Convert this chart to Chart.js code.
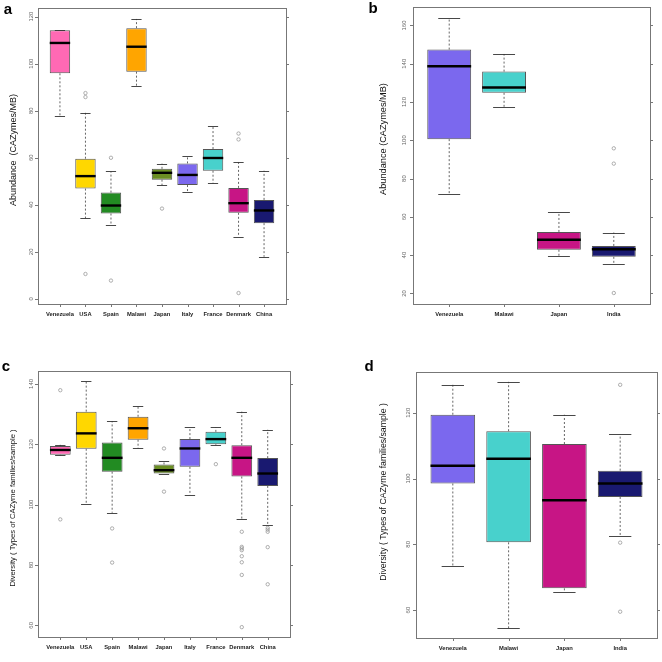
<!DOCTYPE html>
<html>
<head>
<meta charset="utf-8">
<script src="https://cdn.jsdelivr.net/npm/chart.js@4.4.0/dist/chart.umd.min.js"></script>
<style>
  body { margin: 0; background: #fff; }
  #wrap { position: relative; width: 662px; height: 662px; background: #fff; }
  canvas { position: absolute; }
</style>
</head>
<body>
<div id="wrap">
  <canvas id="pa" width="331" height="320" style="left:0;top:0"></canvas>
  <canvas id="pb" width="331" height="320" style="left:331px;top:0"></canvas>
  <canvas id="pc" width="331" height="342" style="left:0;top:320px"></canvas>
  <canvas id="pd" width="331" height="342" style="left:331px;top:320px"></canvas>
</div>
<script>
// ---- panel a: abundance, 9 countries
var catsA = ['Venezuela', 'USA', 'Spain', 'Malawi', 'Japan', 'Italy', 'France', 'Denmark', 'China'];
var colorsA = ['#FF69B4', '#FFD700', '#228B22', '#FFA500', '#6B8E23', '#7B68EE', '#48D1CC', '#C71585', '#191970'];
var lowA = [77.6, 34.3, 31.5, 90.5, 48.3, 45.5, 49.1, 26.4, 17.9];
var q1A = [95.9, 46.9, 36.3, 96.6, 50.7, 48.4, 54.5, 36.6, 32.2];
var medA = [108.8, 52.2, 39.7, 107.2, 53.6, 52.7, 59.9, 40.7, 37.6];
var q3A = [114.2, 59.6, 45.2, 115.1, 55.3, 57.6, 63.7, 47.2, 42.1];
var highA = [114.2, 79.1, 54.2, 119.0, 57.5, 60.9, 73.4, 58.2, 54.5];
var outA = [[], [87.5, 85.8, 10.6], [60.0, 7.8], [], [38.4], [], [], [70.3, 67.8, 2.5], []];
var ticksA = [0, 20, 40, 60, 80, 100, 120];

// ---- panel b: abundance, 4 countries
var catsB = ['Venezuela', 'Malawi', 'Japan', 'India'];
var colorsB = ['#7B68EE', '#48D1CC', '#C71585', '#191970'];
var lowB = [72.0, 117.3, 39.5, 35.1];
var q1B = [100.6, 124.8, 42.8, 39.1];
var medB = [138.7, 127.6, 48.0, 43.1];
var q3B = [147.4, 135.9, 52.1, 44.8];
var highB = [163.9, 145.1, 62.4, 51.8];
var outB = [[], [], [], [95.8, 87.8, 20.2]];
var ticksB = [20, 40, 60, 80, 100, 120, 140, 160];

// ---- panel c: diversity, 9 countries
var catsC = catsA;
var colorsC = colorsA;
var lowC = [116.3, 100.1, 97.3, 118.6, 110.3, 103.2, 119.7, 95.2, 93.2];
var q1C = [116.5, 118.5, 110.9, 121.5, 110.3, 112.5, 120.0, 109.3, 106.2];
var medC = [118.1, 123.6, 115.5, 125.3, 111.4, 118.6, 121.7, 115.5, 110.3];
var q3C = [119.4, 130.8, 120.6, 129.1, 113.3, 121.7, 124.1, 119.7, 115.4];
var highC = [119.8, 141.0, 127.7, 132.8, 114.5, 125.6, 125.6, 130.8, 124.8];
var outC = [[137.9, 95.1], [], [92.1, 80.8], [], [118.6, 104.3], [], [113.4],
            [91.0, 86.0, 85.5, 84.9, 82.9, 80.9, 76.7, 59.4], [92.3, 91.7, 91.0, 85.9, 73.6]];
var ticksC = [60, 80, 100, 120, 140];

// ---- panel d: diversity, 4 countries
var catsD = catsB;
var colorsD = colorsB;
var lowD = [73.4, 54.5, 65.4, 82.4];
var q1D = [98.5, 80.6, 66.6, 94.4];
var medD = [103.9, 106.0, 93.4, 98.5];
var q3D = [119.4, 114.4, 110.5, 102.4];
var highD = [128.5, 129.4, 119.4, 113.4];
var outD = [[], [], [], [128.5, 80.5, 59.5]];
var ticksD = [60, 80, 100, 120];

var FONT = 'Arial, "Liberation Sans", sans-serif';

function makePanel(id, p) {
    var ctx = document.getElementById(id).getContext('2d');
    var n = p.cats.length;

    // R style ranges: data range plus 4% on each side
    var all = p.low.concat(p.high);
    p.out.forEach(function (o) { all = all.concat(o); });
    var yMin = Math.min.apply(null, all), yMax = Math.max.apply(null, all);
    var yPad = (yMax - yMin) * 0.04;
    var xPad = n * 0.04;

    var outPts = [];
    p.out.forEach(function (o, i) {
        o.forEach(function (v) { outPts.push({ x: i + 1, y: v }); });
    });

    var boxPlugin = {
        id: 'boxDecor' + id,
        afterDatasetsDraw: function (chart) {
            var c = chart.ctx, xs = chart.scales.x, ys = chart.scales.y;
            var bars = chart.getDatasetMeta(0).data;
            c.save();
            for (var i = 0; i < n; i++) {
                var cx = xs.getPixelForValue(i + 1);
                var hw = bars[i].width / 2;
                // whiskers
                c.strokeStyle = '#555';
                c.lineWidth = 0.9;
                c.setLineDash([2, 2]);
                c.beginPath();
                c.moveTo(cx, ys.getPixelForValue(p.q3[i]));
                c.lineTo(cx, ys.getPixelForValue(p.high[i]));
                c.moveTo(cx, ys.getPixelForValue(p.q1[i]));
                c.lineTo(cx, ys.getPixelForValue(p.low[i]));
                c.stroke();
                // caps
                c.setLineDash([]);
                c.strokeStyle = '#333';
                c.beginPath();
                [p.high[i], p.low[i]].forEach(function (v) {
                    var yy = Math.round(ys.getPixelForValue(v)) + 0.5;
                    c.moveTo(cx - hw / 2, yy);
                    c.lineTo(cx + hw / 2, yy);
                });
                c.stroke();
                // median
                c.strokeStyle = '#000';
                c.lineWidth = 2.4;
                c.beginPath();
                var my = ys.getPixelForValue(p.med[i]);
                c.moveTo(cx - hw, my);
                c.lineTo(cx + hw, my);
                c.stroke();
            }
            c.restore();
        },
        afterDraw: function (chart) {
            var c = chart.ctx, xs = chart.scales.x, ys = chart.scales.y;
            var a = chart.chartArea;
            c.save();
            // frame
            c.strokeStyle = '#777';
            c.lineWidth = 1;
            c.strokeRect(Math.round(a.left) + 0.5, Math.round(a.top) + 0.5,
                Math.round(a.right - a.left), Math.round(a.bottom - a.top));
            // y ticks left and right
            c.beginPath();
            p.ticks.forEach(function (t) {
                var yy = Math.round(ys.getPixelForValue(t)) + 0.5;
                c.moveTo(a.left - 3, yy); c.lineTo(a.left, yy);
                c.moveTo(a.right, yy); c.lineTo(a.right + 3, yy);
            });
            // x ticks
            for (var i = 0; i < n; i++) {
                var xx = Math.round(xs.getPixelForValue(i + 1)) + 0.5;
                c.moveTo(xx, a.bottom); c.lineTo(xx, a.bottom + 3);
            }
            c.stroke();
            // y tick labels, vertical
            c.fillStyle = '#666';
            c.font = '6px ' + FONT;
            c.textAlign = 'center';
            c.textBaseline = 'middle';
            p.ticks.forEach(function (t) {
                c.save();
                c.translate(a.left - p.tickGap, ys.getPixelForValue(t));
                c.rotate(-Math.PI / 2);
                c.fillText(String(t), 0, 0);
                c.restore();
            });
            // category labels
            c.fillStyle = '#222';
            c.font = 'bold 5.8px ' + FONT;
            for (var j = 0; j < n; j++) {
                c.fillText(p.cats[j], xs.getPixelForValue(j + 1), a.bottom + 10);
            }
            // axis title
            c.fillStyle = '#111';
            c.font = p.titleFont;
            c.save();
            c.translate(p.titleX, p.titleY);
            c.rotate(-Math.PI / 2);
            c.fillText(p.title, 0, 0);
            c.restore();
            // panel letter
            c.fillStyle = '#000';
            c.font = 'bold 15px ' + FONT;
            c.fillText(p.letter, p.letterX, p.letterY);
            c.restore();
        }
    };

    return new Chart(ctx, {
        type: 'bar',
        data: {
            datasets: [{
                type: 'bar',
                data: p.cats.map(function (c, i) { return { x: i + 1, y: [p.q1[i], p.q3[i]] }; }),
                backgroundColor: p.colors,
                borderColor: '#555',
                borderWidth: 1,
                borderSkipped: false,
                barPercentage: 0.8,
                categoryPercentage: 1
            }, {
                type: 'scatter',
                data: outPts,
                pointStyle: 'circle',
                pointRadius: 1.7,
                pointBorderWidth: 0.8,
                pointBorderColor: '#9a9a9a',
                pointBackgroundColor: 'rgba(0,0,0,0)'
            }]
        },
        options: {
            responsive: false,
            animation: false,
            layout: { padding: p.pad },
            plugins: { legend: { display: false }, tooltip: { enabled: false } },
            scales: {
                x: {
                    type: 'linear',
                    display: false,
                    offset: false,
                    min: 0.5 - xPad,
                    max: n + 0.5 + xPad,
                    afterBuildTicks: function (s) {
                        s.ticks = p.cats.map(function (c, i) { return { value: i + 1 }; });
                    }
                },
                y: {
                    type: 'linear',
                    display: false,
                    min: yMin - yPad,
                    max: yMax + yPad
                }
            }
        },
        plugins: [boxPlugin]
    });
}

makePanel('pa', {
    cats: catsA, colors: colorsA, low: lowA, q1: q1A, med: medA, q3: q3A, high: highA, out: outA, ticks: ticksA,
    pad: { left: 38, top: 8, right: 45, bottom: 16 }, tickGap: 7,
    title: 'Abundance  (CAZymes/MB)', titleFont: '9px ' + FONT, titleX: 14, titleY: 150,
    letter: 'a', letterX: 8, letterY: 10
});
makePanel('pb', {
    cats: catsB, colors: colorsB, low: lowB, q1: q1B, med: medB, q3: q3B, high: highB, out: outB, ticks: ticksB,
    pad: { left: 82, top: 7, right: 12, bottom: 16 }, tickGap: 9,
    title: 'Abundance (CAZymes/MB)', titleFont: '9.2px ' + FONT, titleX: 52, titleY: 139,
    letter: 'b', letterX: 42, letterY: 9
});
makePanel('pc', {
    cats: catsC, colors: colorsC, low: lowC, q1: q1C, med: medC, q3: q3C, high: highC, out: outC, ticks: ticksC,
    pad: { left: 38, top: 51, right: 41, bottom: 25 }, tickGap: 7,
    title: 'Diversity ( Types of CAZyme families/sample )', titleFont: '7.7px ' + FONT, titleX: 13, titleY: 188,
    letter: 'c', letterX: 6, letterY: 47
});
makePanel('pd', {
    cats: catsD, colors: colorsD, low: lowD, q1: q1D, med: medD, q3: q3D, high: highD, out: outD, ticks: ticksD,
    pad: { left: 85, top: 52, right: 5, bottom: 24 }, tickGap: 8,
    title: 'Diversity ( Types of CAZyme families/sample )', titleFont: '8.7px ' + FONT, titleX: 53, titleY: 172,
    letter: 'd', letterX: 38, letterY: 47
});
</script>
</body>
</html>
